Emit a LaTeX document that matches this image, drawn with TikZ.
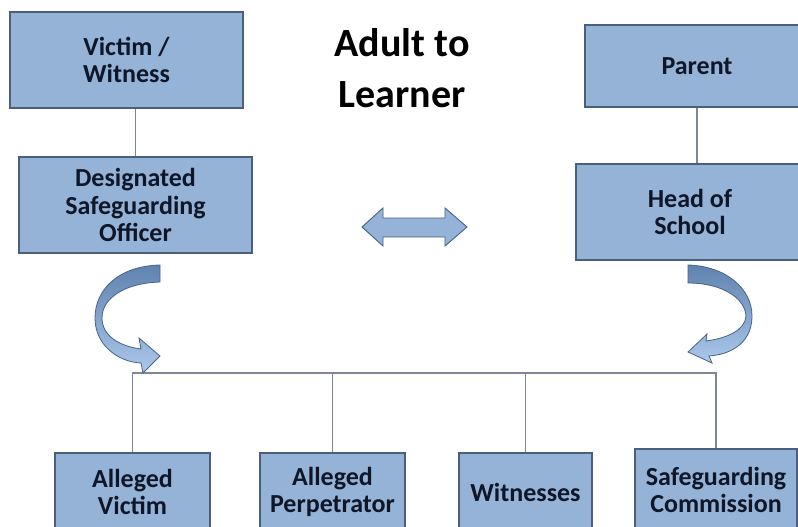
\documentclass[tikz,border=0pt]{standalone}
\usepackage{fontspec}
\setmainfont{Carlito}
\definecolor{boxblue}{RGB}{149,179,215}
\definecolor{boxedge}{RGB}{75,95,125}
\definecolor{inkblue}{RGB}{14,22,40}
\definecolor{linegray}{RGB}{125,135,150}
\definecolor{arrowdark}{RGB}{95,130,175}
\definecolor{arrowlight}{RGB}{172,200,234}
\definecolor{arrowedge}{RGB}{70,100,140}

\begin{document}
\begin{tikzpicture}[x=0.75pt,y=-0.75pt,
	box/.style 2 args={draw=boxedge,line width=0.8pt,fill=boxblue,text=inkblue,
		align=center,font=\fontsize{19.5}{20.8}\selectfont\bfseries,inner sep=0pt,
		minimum width=#1*0.75pt,minimum height=#2*0.75pt},
	link/.style={draw=linegray,line width=0.9pt},
	turn/.style={draw=arrowedge,line width=0.6pt,top color=arrowdark,bottom color=arrowlight},
	swap/.style={draw=arrowedge,line width=0.7pt,fill=boxblue},
	bigtext/.style={align=center,text=black,font=\fontsize{30}{38}\selectfont\bfseries}]

	\useasboundingbox (0,0) rectangle (798,527);
	\clip (0,0) rectangle (798,527);
	\fill[white] (0,0) rectangle (798,527);

	\node[box={233}{96}] (vw) at (126.5,60) {Victim /\\Witness};
	\node[box={233}{96}] (dso) at (135.5,205) {Designated\\Safeguarding\\Officer};
	\node[box={224}{82}] (parent) at (697,66) {Parent};
	\node[box={228}{96}] (head) at (690,212) {Head of\\School};

	\node[bigtext] (heading) at (402,68) {Adult to\\Learner};

	\node[box={155}{78}] (victim) at (132.5,492) {Alleged\\Victim};
	\node[box={145}{78}] (perp) at (332.5,492) {Alleged\\Perpetrator};
	\node[box={133}{78}] (witn) at (525.5,492) {Witnesses};
	\node[box={162}{82}] (comm) at (716,490) {Safeguarding\\Commission};

	\draw[link] (dso.north) -- (dso.north |- vw.south);
	\draw[link] (parent.south) -- (parent.south |- head.north);

	\coordinate (bus) at (0,373);
	\draw[link] (victim.north) -- (victim.north |- bus) -- (comm.north |- bus)
		-- (comm.north);
	\foreach \n in {perp,witn} \draw[link] (\n.north) -- (\n.north |- bus);

	\draw[swap] (362,227) -- (383,208) -- (383,218) -- (445,218) -- (445,208)
		-- (467,227) -- (445,246) -- (445,237) -- (383,237) -- (383,246) -- cycle;

	\path[turn] (160,265) .. controls (118,266) and (95,290) .. (95,318)
		.. controls (95,345) and (118,362) .. (141,363) -- (143,373) -- (160,356)
		-- (139,338) -- (141,349) .. controls (118,346) and (102,335) .. (102,318)
		.. controls (102,298) and (125,283) .. (160,282) -- cycle;
	\path[turn] (688,265) .. controls (725,266) and (752,288) .. (752,316)
		.. controls (752,340) and (735,354) .. (709,356) -- (712,363) -- (688,352)
		-- (707,334) -- (706,341) .. controls (728,338) and (745,330) .. (746,316)
		.. controls (745,298) and (722,283) .. (688,283) -- cycle;
\end{tikzpicture}
\end{document}
